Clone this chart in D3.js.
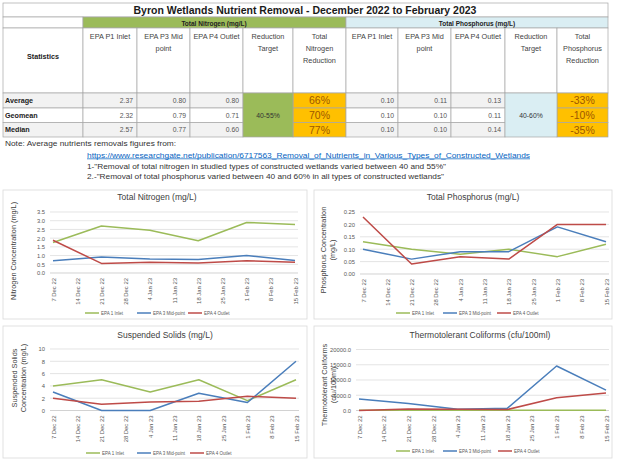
<!DOCTYPE html>
<html>
<head>
<meta charset="utf-8">
<script src="https://cdn.jsdelivr.net/npm/d3@7"></script>
<style>
  body { margin: 0; background: #fff; }
  svg { font-family: "Liberation Sans", Arial, sans-serif; }
</style>
</head>
<body>
<svg id="page" width="624" height="460"></svg>
<script>
// ---- table data ----
const statRows = ["Average", "Geomean", "Median"];
const nitrogenStats = [[2.37, 0.80, 0.80], [2.32, 0.79, 0.71], [2.57, 0.77, 0.60]];
const nitrogenReduction = ["66%", "70%", "77%"];
const nitrogenTarget = "40-55%";
const phosphorusStats = [[0.10, 0.11, 0.13], [0.10, 0.10, 0.11], [0.10, 0.10, 0.14]];
const phosphorusReduction = ["-33%", "-10%", "-35%"];
const phosphorusTarget = "40-60%";

// ---- chart data ----
const tickDates = ["2022-12-07", "2022-12-14", "2022-12-21", "2022-12-28", "2023-01-04", "2023-01-11",
                   "2023-01-18", "2023-01-25", "2023-02-01", "2023-02-08", "2023-02-15"];
const sampleDates = ["2022-12-07", "2022-12-21", "2023-01-04", "2023-01-18", "2023-02-01", "2023-02-15"];
const seriesNames = ["EPA 1 Inlet", "EPA 3 Mid-point", "EPA 4 Outlet"];

const nitrogenInlet = [1.75, 2.70, 2.45, 1.85, 2.90, 2.78];
const nitrogenMid = [0.70, 0.92, 0.80, 0.78, 1.00, 0.72];
const nitrogenOutlet = [1.88, 0.55, 0.62, 0.58, 0.70, 0.62];

const phosphorusInlet = [0.13, 0.10, 0.08, 0.10, 0.07, 0.12];
const phosphorusMid = [0.10, 0.06, 0.09, 0.09, 0.19, 0.13];
const phosphorusOutlet = [0.23, 0.04, 0.07, 0.06, 0.20, 0.20];

const solidsInlet = [4, 5, 3, 5, 1.6, 5];
const solidsMid = [3, 0, 0, 2.8, 1.3, 8];
const solidsOutlet = [2, 1, 1.4, 1.5, 2.3, 2];

const coliformInlet = [50, 50, 100, 50, 100, 100];
const coliformMid = [3800, 2300, 400, 700, 14600, 6700];
const coliformOutlet = [0, 500, 400, 300, 4200, 5700];

const nitrogenTicks = [0, 0.5, 1, 1.5, 2, 2.5, 3, 3.5];
const phosphorusTicks = [0, 0.05, 0.1, 0.15, 0.2, 0.25];
const solidsTicks = [0, 2, 4, 6, 8, 10];
const coliformTicks = [0, 5000, 10000, 15000, 20000];

const colors = ["#9bbb59", "#4a7ebb", "#be4b48"];
const parse = d3.utcParse("%Y-%m-%d");

const svg = d3.select("#page");

// ---------------- table ----------------
const colX = [3, 83, 137, 190, 243, 293, 346, 398, 451, 505, 557, 608];
const rowY = [93, 108, 122.5, 137];
const border = "#a6a6a6";

const table = svg.append("g");

function cell(x0, y0, x1, y1, fill) {
    table.append("rect")
        .attr("x", x0).attr("y", y0)
        .attr("width", x1 - x0).attr("height", y1 - y0)
        .style("fill", fill)
        .style("stroke", border)
        .style("stroke-width", 0.7);
}

function label(x, y, txt, opts) {
    opts = opts || {};
    return table.append("text")
        .attr("x", x).attr("y", y)
        .attr("text-anchor", opts.anchor || "middle")
        .style("font-size", (opts.size || 7) + "px")
        .style("font-weight", opts.bold ? "bold" : "normal")
        .style("fill", opts.color || "#333")
        .text(txt);
}

// title row
cell(3, 3, 608, 17, "#fff");
label(305, 14, "Byron Wetlands Nutrient Removal - December 2022 to February 2023", {size: 10.5, bold: true, color: "#1a1a1a"});

// group header row
cell(3, 17, 83, 28, "#fff");
cell(83, 17, 346, 28, "#9bbb59");
cell(346, 17, 608, 28, "#daeef3");
label(214, 25.5, "Total Nitrogen (mg/L)", {size: 6.5, bold: true, color: "#222"});
label(477, 25.5, "Total Phosphorus (mg/L)", {size: 6.5, bold: true, color: "#222"});

// column headers
const nHeads = [["EPA P1 Inlet"], ["EPA P3 Mid", "point"], ["EPA P4 Outlet"], ["Reduction", "Target"], ["Total", "Nitrogen", "Reduction"]];
const pHeads = [["EPA P1 Inlet"], ["EPA P3 Mid", "point"], ["EPA P4 Outlet"], ["Reduction", "Target"], ["Total", "Phosphorus", "Reduction"]];
cell(3, 28, 83, 93, "#fff");
label(43, 59, "Statistics", {size: 7.2, bold: true, color: "#222"});
nHeads.concat(pHeads).forEach((lines, i) => {
    cell(colX[i + 1], 28, colX[i + 2], 93, "#fff");
    lines.forEach((ln, j) => label((colX[i + 1] + colX[i + 2]) / 2, 38.5 + j * 12, ln, {size: 7.3, color: "#444"}));
});

// data rows
statRows.forEach((name, r) => {
    const fill = r === 1 ? "#fff" : "#f2f2f2";
    const y0 = rowY[r], y1 = rowY[r + 1], yb = (y0 + y1) / 2 + 2.5;
    cell(3, y0, 83, y1, fill);
    label(5, yb, name, {size: 7.2, bold: true, anchor: "start", color: "#222"});
    nitrogenStats[r].forEach((v, c) => {
        cell(colX[c + 1], y0, colX[c + 2], y1, fill);
        label(colX[c + 2] - 4, yb, d3.format(".2f")(v), {size: 6.8, anchor: "end", color: "#555"});
    });
    cell(colX[5], y0, colX[6], y1, "#ffc000");
    label((colX[5] + colX[6]) / 2, yb + 1.3, nitrogenReduction[r], {size: 10.5, color: "#9c5700"});
    phosphorusStats[r].forEach((v, c) => {
        cell(colX[c + 6], y0, colX[c + 7], y1, fill);
        label(colX[c + 7] - 4, yb, d3.format(".2f")(v), {size: 6.8, anchor: "end", color: "#555"});
    });
    cell(colX[10], y0, colX[11], y1, "#ffc000");
    label((colX[10] + colX[11]) / 2, yb + 1.3, phosphorusReduction[r], {size: 10.5, color: "#9c5700"});
});
// merged target cells
cell(colX[4], rowY[0], colX[5], rowY[3], "#9bbb59");
label((colX[4] + colX[5]) / 2, 117.5, nitrogenTarget, {size: 6.8, color: "#333"});
cell(colX[9], rowY[0], colX[10], rowY[3], "#daeef3");
label((colX[9] + colX[10]) / 2, 117.5, phosphorusTarget, {size: 6.8, color: "#333"});

// notes
label(5, 146, "Note: Average nutrients removals figures from:", {size: 7.2, anchor: "start", color: "#333"})
    .attr("textLength", 171).attr("lengthAdjust", "spacingAndGlyphs");
label(87, 157.5, "https://www.researchgate.net/publication/6717563_Removal_of_Nutrients_in_Various_Types_of_Constructed_Wetlands",
      {size: 7.2, anchor: "start", color: "#0563c1"})
    .style("text-decoration", "underline")
    .attr("textLength", 443).attr("lengthAdjust", "spacingAndGlyphs");
label(87, 168.5, "1-\"Removal of total nitrogen in studied types of constructed wetlands varied between 40 and 55%\"",
      {size: 7.2, anchor: "start", color: "#333"})
    .attr("textLength", 359).attr("lengthAdjust", "spacingAndGlyphs");
label(87, 179, "2.-\"Removal of total phosphorus varied between 40 and 60% in all types of constructed wetlands\"",
      {size: 7.2, anchor: "start", color: "#333"})
    .attr("textLength", 357).attr("lengthAdjust", "spacingAndGlyphs");

// ---------------- charts ----------------
function drawChart(cfg) {
    const g = svg.append("g");
    g.append("rect")
        .attr("x", cfg.box[0]).attr("y", cfg.box[1])
        .attr("width", cfg.box[2] - cfg.box[0]).attr("height", cfg.box[3] - cfg.box[1])
        .style("fill", "#fff").style("stroke", "#d9d9d9").style("stroke-width", 0.8);

    const x = d3.scaleUtc()
        .domain([parse(tickDates[0]), parse(tickDates[tickDates.length - 1])])
        .range(cfg.xr);
    const y = d3.scaleLinear()
        .domain([0, cfg.ticks[cfg.ticks.length - 1]])
        .range(cfg.yr);

    // gridlines
    g.selectAll(".grid")
        .data(cfg.ticks.slice(1))
        .enter().append("line")
        .attr("x1", cfg.xr[0] - 3).attr("x2", cfg.xr[1] + 3)
        .attr("y1", d => y(d)).attr("y2", d => y(d))
        .style("stroke", "#d9d9d9").style("stroke-width", 0.7);

    const yAxis = g.append("g")
        .attr("transform", `translate(${cfg.xr[0] - 8} 0)`)
        .call(d3.axisLeft(y).tickValues(cfg.ticks).tickFormat(d3.format(cfg.fmt)).tickSize(0).tickPadding(0));
    yAxis.select(".domain").remove();
    yAxis.selectAll("text").style("font-size", "5.8px").style("fill", "#595959").style("font-family", "Liberation Sans, Arial, sans-serif");

    const xAxis = g.append("g")
        .attr("transform", `translate(0 ${cfg.yr[0]})`)
        .call(d3.axisBottom(x).tickValues(tickDates.map(parse)).tickFormat(d3.utcFormat("%-d %b %y")).tickSize(0));
    xAxis.select(".domain")
        .attr("d", `M${cfg.xr[0] - 3},0H${cfg.xr[1] + 3}`)
        .style("stroke", "#bfbfbf").style("stroke-width", 0.7);
    xAxis.selectAll("text")
        .attr("transform", "rotate(-90)")
        .attr("text-anchor", "end")
        .attr("x", -5).attr("y", 0).attr("dy", "0.35em")
        .style("font-size", "5.9px").style("fill", "#595959").style("font-family", "Liberation Sans, Arial, sans-serif");

    const line = d3.line()
        .x((d, i) => x(parse(sampleDates[i])))
        .y(d => y(d));
    g.selectAll(".series")
        .data(cfg.series)
        .enter().append("path")
        .attr("d", d => line(d))
        .style("fill", "none")
        .style("stroke", (d, i) => colors[i])
        .style("stroke-width", 1.5)
        .style("stroke-linejoin", "round");

    // title
    g.append("text")
        .attr("x", cfg.title[1]).attr("y", cfg.title[2])
        .attr("text-anchor", "middle")
        .style("font-size", "8.5px").style("fill", "#404040")
        .text(cfg.title[0]);

    // y axis title
    const yt = g.append("text")
        .attr("transform", `translate(${cfg.ytitle.x} ${cfg.ytitle.y}) rotate(-90)`)
        .attr("text-anchor", "middle")
        .style("font-size", "7.3px").style("fill", "#404040");
    cfg.ytitle.lines.forEach((ln, i) => {
        yt.append("tspan").attr("x", 0).attr("y", i * 9 - (cfg.ytitle.lines.length - 1) * 4.5).attr("dy", "0.35em").text(ln);
    });

    // legend
    const leg = g.selectAll(".legend")
        .data(seriesNames)
        .enter().append("g")
        .attr("transform", (d, i) => `translate(${cfg.legend.x[i]} ${cfg.legend.y})`);
    leg.append("line")
        .attr("x1", 0).attr("x2", 14)
        .style("stroke", (d, i) => colors[i]).style("stroke-width", 1.5);
    leg.append("text")
        .attr("x", 16).attr("dy", "0.35em")
        .style("font-size", "4.5px").style("fill", "#595959")
        .text(d => d);
}

drawChart({
    box: [3, 190, 307, 319],
    xr: [53, 295], yr: [273, 212],
    ticks: nitrogenTicks, fmt: ".1f",
    series: [nitrogenInlet, nitrogenMid, nitrogenOutlet],
    title: ["Total Nitrogen (mg/L)", 157, 200],
    ytitle: {x: 13, y: 251, lines: ["Nitrogen Concentration (mg/L)"]},
    legend: {y: 313, x: [85, 137, 188]}
});

drawChart({
    box: [314, 190, 612, 319],
    xr: [363, 606], yr: [274, 212],
    ticks: phosphorusTicks, fmt: ".2f",
    series: [phosphorusInlet, phosphorusMid, phosphorusOutlet],
    title: ["Total Phosphorus (mg/L)", 473, 200],
    ytitle: {x: 328, y: 250, lines: ["Phosphorus Concentration", "(mg/L)"]},
    legend: {y: 313, x: [396, 443, 497]}
});

drawChart({
    box: [3, 326, 307, 458],
    xr: [53, 296], yr: [410.5, 349],
    ticks: solidsTicks, fmt: "d",
    series: [solidsInlet, solidsMid, solidsOutlet],
    title: ["Suspended Solids (mg/L)", 165, 338],
    ytitle: {x: 19, y: 378, lines: ["Suspended Solids", "Concentration (mg/L)"]},
    legend: {y: 453, x: [86, 137, 190]}
});

drawChart({
    box: [314, 326, 612, 458],
    xr: [359, 606], yr: [410.5, 349.5],
    ticks: coliformTicks, fmt: ".1f",
    series: [coliformInlet, coliformMid, coliformOutlet],
    title: ["Thermotolerant Coliforms (cfu/100ml)", 480, 338],
    ytitle: {x: 329, y: 385, lines: ["Thermotolerant Coliforms", "(cfu/100ml)"]},
    legend: {y: 451, x: [396, 443, 498]}
});
</script>
</body>
</html>
